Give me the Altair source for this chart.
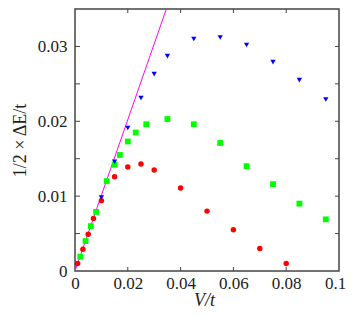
import altair as alt
import pandas as pd

# ---- data ----
red_x = [0.001, 0.003, 0.005, 0.007, 0.01, 0.015, 0.02, 0.025, 0.03, 0.04, 0.05, 0.06, 0.07, 0.08]
red_y = [0.0010, 0.0029, 0.0049, 0.0070, 0.0094, 0.0126, 0.0139, 0.0143, 0.0135, 0.0111, 0.0080, 0.0055, 0.0030, 0.0010]

green_x = [0.002, 0.004, 0.006, 0.008, 0.012, 0.015, 0.017, 0.02, 0.023, 0.027, 0.035,
           0.045, 0.055, 0.065, 0.075, 0.085, 0.095]
green_y = [0.0019, 0.0040, 0.0060, 0.0079, 0.0120, 0.0142, 0.0155, 0.0173, 0.0185, 0.0196, 0.0203,
           0.0196, 0.0171, 0.0140, 0.0116, 0.0090, 0.0069]

blue_x = [0.01, 0.015, 0.02, 0.025, 0.03, 0.035, 0.045, 0.055, 0.065, 0.075, 0.085, 0.095]
blue_y = [0.0098, 0.0146, 0.0191, 0.0231, 0.0263, 0.0287, 0.0310, 0.0312, 0.0302, 0.0279, 0.0255, 0.0229]

line_x = [0.0, 0.0346]
line_y = [0.0, 0.035]

x_tick_values = [0, 0.02, 0.04, 0.06, 0.08, 0.1]
y_label_values = [0, 0.01, 0.02, 0.03]
x_minor = [0.02, 0.04, 0.06, 0.08]
y_minor = [0.005, 0.01, 0.015, 0.02, 0.025, 0.03]

W, H = 264, 262
FONT = "Liberation Serif"
FRAME = "#444444"

xscale = alt.Scale(domain=[0, 0.1], nice=False, zero=False)
yscale = alt.Scale(domain=[0, 0.035], nice=False, zero=False)

X = alt.X("x:Q", scale=xscale,
          axis=alt.Axis(values=x_tick_values, labelExpr="'' + datum.value", title="V/t",
                        labelOffset={"condition": {"test": "datum.value >= 0.1", "value": -4}, "value": 0},
                        titleFontStyle="italic", titleX=129, titleY=34, titleBaseline="alphabetic"))
Y = alt.Y("y:Q", scale=yscale,
          axis=alt.Axis(values=y_label_values, labelExpr="'' + datum.value", title="1/2 × ΔE/t",
                        titleX=-50, titleY=H / 2, titleBaseline="alphabetic"))

red = pd.DataFrame({"x": red_x, "y": red_y})
green = pd.DataFrame({"x": green_x, "y": green_y})
blue = pd.DataFrame({"x": blue_x, "y": blue_y})
line = pd.DataFrame({"x": line_x, "y": line_y})

line_layer = alt.Chart(line).mark_line(color="#ff00ff", strokeWidth=1, clip=True).encode(x=X, y=Y)
red_layer = alt.Chart(red).mark_point(shape="circle", filled=True, color="#ff0000", size=30, opacity=1).encode(x=X, y=Y)
green_layer = alt.Chart(green).mark_point(shape="square", filled=True, color="#00ff00", size=34, opacity=1).encode(x=X, y=Y)
blue_layer = alt.Chart(blue).mark_point(shape="triangle-down", filled=True, color="#0000ff", size=28, opacity=1).encode(x=X, y=Y)

xt = pd.DataFrame({"x": x_minor})
yt = pd.DataFrame({"y": y_minor})
tick_b = alt.Chart(xt).mark_rule(color=FRAME, strokeWidth=1).encode(x=X, y=alt.value(H), y2=alt.value(H - 4))
tick_t = alt.Chart(xt).mark_rule(color=FRAME, strokeWidth=1).encode(x=X, y=alt.value(0), y2=alt.value(4))
tick_l = alt.Chart(yt).mark_rule(color=FRAME, strokeWidth=1).encode(y=Y, x=alt.value(0), x2=alt.value(5))
tick_r = alt.Chart(yt).mark_rule(color=FRAME, strokeWidth=1).encode(y=Y, x=alt.value(W), x2=alt.value(W - 4))

chart = alt.layer(
    tick_b, tick_t, tick_l, tick_r, line_layer, red_layer, green_layer, blue_layer
).properties(
    width=W, height=H,
    autosize=alt.AutoSizeParams(type="none"),
    padding={"left": 67, "top": 1, "right": 7, "bottom": 37},
).configure_view(
    stroke=FRAME, strokeWidth=1.5
).configure_axis(
    domain=False, ticks=False, grid=False, labelFlush=False,
    labelFont=FONT, labelFontSize=17, labelColor="#222222",
    titleFont=FONT, titleFontSize=18, titleFontWeight="normal", titleColor="#222222",
).configure_axisX(
    labelPadding=4
).configure_axisY(
    labelPadding=8
)

chart.save("out.html", embed_options={"renderer": "svg", "actions": False})
